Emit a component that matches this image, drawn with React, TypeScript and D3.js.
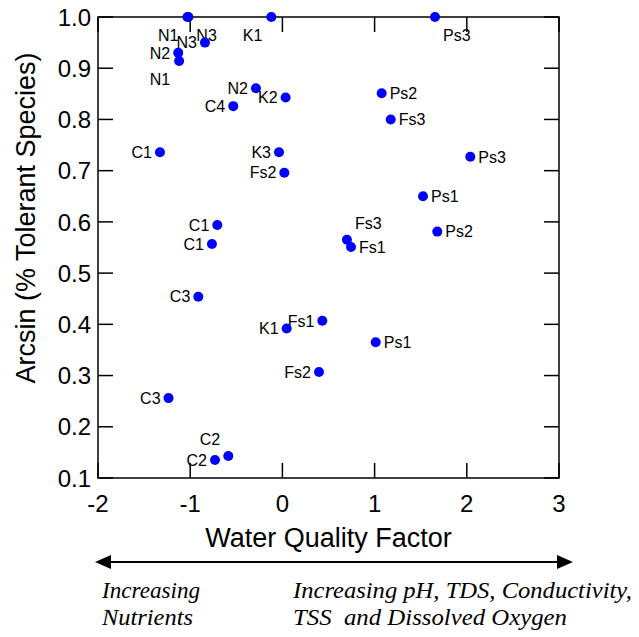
import { useEffect, useRef } from 'react';
import * as d3 from 'd3';

// site codes, factor scores and arcsin values
const siteLabels = [
  'N1', 'N3', 'N3', 'N2', 'N1', 'K1', 'Ps3', 'N2', 'K2', 'C4',
  'Ps2', 'Fs3', 'Ps3', 'C1', 'K3', 'Fs2', 'Ps1', 'C1', 'C1', 'Fs3',
  'Fs1', 'Ps2', 'C3', 'Fs1', 'K1', 'Ps1', 'Fs2', 'C3', 'C2', 'C2',
];
const qualityFactor = [
  -1.03, -1.02, -0.84, -1.13, -1.12, -0.12, 1.655, -0.287, 0.035, -0.533,
  1.077, 1.175, 2.038, -1.328, -0.037, 0.021, 1.525, -0.706, -0.764, 0.70,
  0.744, 1.68, -0.912, 0.433, 0.046, 1.012, 0.397, -1.235, -0.587, -0.731,
];
const tolerant = [
  1.0, 1.0, 0.95, 0.93, 0.914, 1.0, 1.0, 0.861, 0.843, 0.826,
  0.851, 0.8, 0.727, 0.736, 0.736, 0.696, 0.65, 0.594, 0.557, 0.565,
  0.551, 0.581, 0.454, 0.407, 0.392, 0.365, 0.307, 0.256, 0.143, 0.135,
];
// where each site label sits relative to its dot
const labelSide = [
  'bl', 'br', 'l', 'l', 'bl', 'bl', 'br', 'l', 'l', 'l',
  'r', 'r', 'r', 'l', 'l', 'l', 'r', 'l', 'l', 'tr',
  'r', 'r', 'l', 'l', 'l', 'r', 'l', 'l', 'tl', 'l',
];

const xTicks = [-2, -1, 0, 1, 2, 3];
const yTicks = [0.1, 0.2, 0.3, 0.4, 0.5, 0.6, 0.7, 0.8, 0.9, 1.0];

const WIDTH = 639;
const HEIGHT = 637;
const SANS = '"Liberation Sans", Arial, sans-serif';
const SERIF = '"Liberation Serif", "Times New Roman", serif';

export default function App() {
  const svgRef = useRef<SVGSVGElement>(null);

  useEffect(() => {
    if (!svgRef.current) return;
    const svg = d3.select(svgRef.current);
    svg.selectAll('*').remove();

    const left = 98, right = 559, top = 17, bottom = 478;
    const x = d3.scaleLinear().domain([-2, 3]).range([left, right]);
    const y = d3.scaleLinear().domain([0.1, 1.0]).range([bottom, top]);
    const tickLen = 15;

    // frame
    svg.append('rect')
      .attr('x', left).attr('y', top)
      .attr('width', right - left).attr('height', bottom - top)
      .attr('fill', 'none').attr('stroke', '#000').attr('stroke-width', 1.5);

    // inward ticks on all four sides
    xTicks.forEach((t) => {
      svg.append('line')
        .attr('x1', x(t)).attr('x2', x(t))
        .attr('y1', bottom).attr('y2', bottom - tickLen)
        .attr('stroke', '#000').attr('stroke-width', 1.5);
      svg.append('line')
        .attr('x1', x(t)).attr('x2', x(t))
        .attr('y1', top).attr('y2', top + tickLen)
        .attr('stroke', '#000').attr('stroke-width', 1.5);
      svg.append('text')
        .attr('x', x(t)).attr('y', 512)
        .attr('text-anchor', 'middle')
        .attr('font-family', SANS).attr('font-size', 24)
        .text(String(t));
    });
    yTicks.forEach((t) => {
      svg.append('line')
        .attr('x1', left).attr('x2', left + tickLen)
        .attr('y1', y(t)).attr('y2', y(t))
        .attr('stroke', '#000').attr('stroke-width', 1.5);
      svg.append('line')
        .attr('x1', right).attr('x2', right - tickLen)
        .attr('y1', y(t)).attr('y2', y(t))
        .attr('stroke', '#000').attr('stroke-width', 1.5);
      svg.append('text')
        .attr('x', 91).attr('y', y(t))
        .attr('dy', '0.36em')
        .attr('text-anchor', 'end')
        .attr('font-family', SANS).attr('font-size', 24)
        .text(t.toFixed(1));
    });

    // axis titles
    svg.append('text')
      .attr('x', (left + right) / 2).attr('y', 547)
      .attr('text-anchor', 'middle')
      .attr('font-family', SANS).attr('font-size', 27)
      .text('Water Quality Factor');
    svg.append('text')
      .attr('transform', 'translate(35,218) rotate(-90)')
      .attr('text-anchor', 'middle')
      .attr('font-family', SANS).attr('font-size', 27)
      .text('Arcsin (% Tolerant Species)');

    // points + labels
    const offsets: Record<string, [number, number, string]> = {
      l: [-8, 0, 'end'],
      r: [8, 0, 'start'],
      bl: [-9, 18, 'end'],
      br: [8, 18, 'start'],
      tl: [-8, -17, 'end'],
      tr: [8, -17, 'start'],
    };
    siteLabels.forEach((name, i) => {
      const cx = x(qualityFactor[i]);
      const cy = y(tolerant[i]);
      svg.append('circle')
        .attr('cx', cx).attr('cy', cy).attr('r', 5)
        .attr('fill', '#0000FF');
      const [dx, dy, anchor] = offsets[labelSide[i]];
      svg.append('text')
        .attr('x', cx + dx).attr('y', cy + dy)
        .attr('dy', '0.36em')
        .attr('text-anchor', anchor)
        .attr('font-family', SANS).attr('font-size', 16)
        .text(name);
    });

    // double-headed arrow under the axis
    const arrowY = 562;
    svg.append('line')
      .attr('x1', 105).attr('x2', 560)
      .attr('y1', arrowY).attr('y2', arrowY)
      .attr('stroke', '#000').attr('stroke-width', 2);
    svg.append('path')
      .attr('d', `M95,${arrowY} L111,${arrowY - 7} L111,${arrowY + 7} Z`)
      .attr('fill', '#000');
    svg.append('path')
      .attr('d', `M573,${arrowY} L557,${arrowY - 7} L557,${arrowY + 7} Z`)
      .attr('fill', '#000');

    // italic notes (widths matched to the original Palatino setting)
    const notes: [string, number, number, number][] = [
      ['Increasing', 102, 598, 98],
      ['Nutrients', 102, 625, 91],
      ['Increasing pH, TDS, Conductivity,', 293, 598, 339],
      ['TSS  and Dissolved Oxygen', 293, 625, 274],
    ];
    notes.forEach(([txt, tx, ty, len]) => {
      svg.append('text')
        .attr('x', tx).attr('y', ty)
        .attr('font-family', SERIF).attr('font-style', 'italic')
        .attr('font-size', 23)
        .attr('textLength', len)
        .attr('lengthAdjust', 'spacingAndGlyphs')
        .style('white-space', 'pre')
        .text(txt);
    });
  }, []);

  return (
    <svg
      ref={svgRef}
      width={WIDTH}
      height={HEIGHT}
      style={{ position: 'absolute', left: 0, top: 0, background: '#fff' }}
    />
  );
}
